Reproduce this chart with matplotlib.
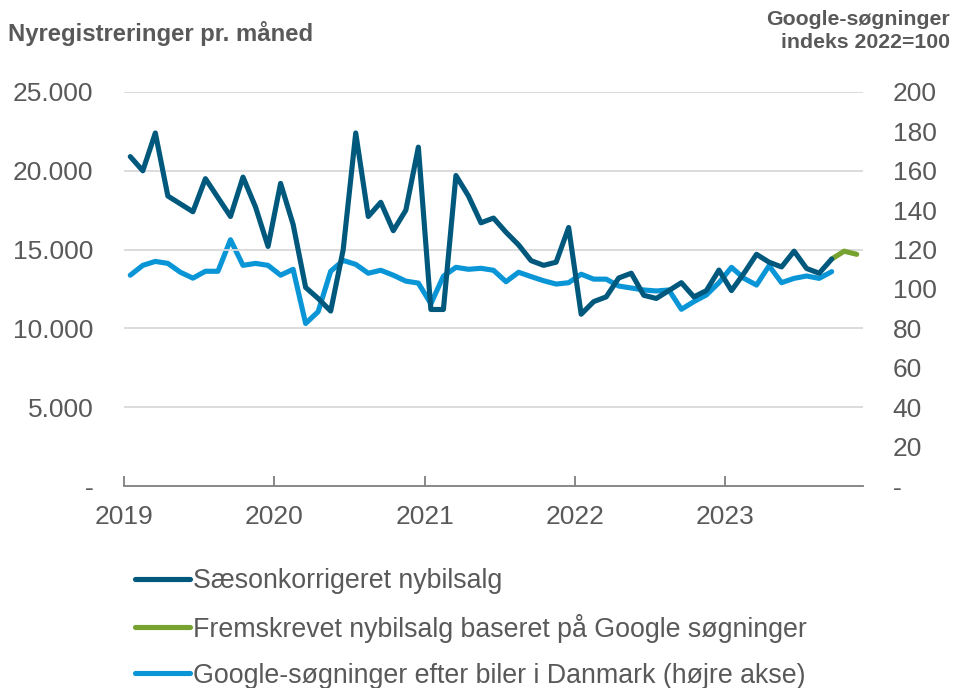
import matplotlib
matplotlib.use("Agg")
import matplotlib.pyplot as plt
import numpy as np
from matplotlib.ticker import FuncFormatter

plt.rcParams['font.family'] = ['Liberation Sans', 'DejaVu Sans']

# Monthly data, Jan 2019 - Sep 2023
sales = [20900, 20000, 22400, 18400, 17900, 17400, 19500, 18300, 17100, 19600, 17700, 15200,
         19200, 16600, 12600, 11900, 11100, 15000, 22400, 17100, 18000, 16200, 17500, 21500,
         11200, 11200, 19700, 18400, 16700, 17000, 16100, 15300, 14300, 14000, 14200, 16400,
         10900, 11700, 12000, 13200, 13500, 12100, 11900, 12400, 12900, 12000, 12400, 13700,
         12400, 13500, 14700, 14200, 13900, 14900, 13800, 13500, 14400]
google = [107, 112, 114, 113, 108.5, 105.5, 109, 109, 125, 112, 113, 112,
          107, 110, 82.5, 88.5, 109, 114.5, 112.5, 108, 109.5, 107, 104, 103,
          92.5, 106.5, 111, 110, 110.5, 109.5, 103.7, 108.5, 106.3, 104.2, 102.5, 103.2,
          107.5, 105, 105, 101.5, 100.5, 99.5, 99, 99.5, 89.7, 93.6, 97, 103.2,
          111, 105.4, 102, 111.8, 103.2, 105.4, 106.6, 105.4, 108.8]
# Forecast Sep - Nov 2023
forecast = [14400, 14900, 14700]
forecast_start = 56

years = ['2019', '2020', '2021', '2022', '2023']
left_ticks = [0, 5000, 10000, 15000, 20000, 25000]
right_ticks = [0, 20, 40, 60, 80, 100, 120, 140, 160, 180, 200]

labels = ['Sæsonkorrigeret nybilsalg',
          'Fremskrevet nybilsalg baseret på Google søgninger',
          'Google-søgninger efter biler i Danmark (højre akse)']

c_dark = '#00597D'
c_green = '#77A22F'
c_light = '#0A96D6'
c_text = '#595959'

fig = plt.figure(figsize=(9.54, 6.88), dpi=100)
ax = fig.add_axes([0.130, 0.2936, 0.7746, 0.5727])
ax2 = ax.twinx()

x_sales = np.arange(len(sales)) + 0.5
x_google = np.arange(len(google)) + 0.5
x_fc = np.arange(forecast_start, forecast_start + len(forecast)) + 0.5

lw = 3.7
l2, = ax.plot(x_fc, forecast, color=c_green, lw=lw, solid_capstyle='round', solid_joinstyle='round', zorder=3)
l1, = ax.plot(x_sales, sales, color=c_dark, lw=lw, solid_capstyle='round', solid_joinstyle='round', zorder=4)
l3, = ax2.plot(x_google, google, color=c_light, lw=lw, solid_capstyle='round', solid_joinstyle='round', zorder=3)

ax.set_zorder(ax2.get_zorder() + 1)
ax.patch.set_visible(False)

ax.set_xlim(0, 59)
ax.set_ylim(0, 25000)
ax2.set_ylim(0, 200)

ax.set_yticks(left_ticks)
ax.yaxis.set_major_formatter(FuncFormatter(lambda v, p: '-' if v == 0 else f'{int(v):,}'.replace(',', '.')))
ax2.set_yticks(right_ticks)
ax2.yaxis.set_major_formatter(FuncFormatter(lambda v, p: '-' if v == 0 else f'{int(v)}'))

ax.set_xticks([0, 12, 24, 36, 48])
ax.set_xticklabels(years)

for a in (ax, ax2):
    for s in ('top', 'left', 'right', 'bottom'):
        a.spines[s].set_visible(False)
ax.spines['bottom'].set_visible(True)
ax.spines['bottom'].set_color('#7F7F7F')
ax.spines['bottom'].set_linewidth(1.3)

ax.tick_params(axis='y', length=0, pad=22, labelsize=19, labelcolor=c_text)
ax2.tick_params(axis='y', length=0, pad=21.5, labelsize=19, labelcolor=c_text)
ax.tick_params(axis='x', direction='in', length=7, width=1.3, color='#7F7F7F',
               pad=13.5, labelsize=19, labelcolor=c_text)

ax.grid(axis='y', color='#D9D9D9', lw=1.3)
ax.set_axisbelow(True)
ax.yaxis.get_gridlines()[0].set_visible(False)

fig.text(0.008, 0.952, 'Nyregistreringer pr. måned', fontsize=17.2, fontweight='bold',
         color=c_text, ha='left', va='center')
fig.text(0.996, 0.971, 'Google-søgninger', fontsize=15.3, fontweight='bold',
         color=c_text, ha='right', va='center')
fig.text(0.996, 0.9375, 'indeks 2022=100', fontsize=15.3, fontweight='bold',
         color=c_text, ha='right', va='center')

leg = fig.legend([l1, l2, l3], labels, loc='upper left', bbox_to_anchor=(0.1415, 0.1745),
                 frameon=False, fontsize=19.3, handlelength=2.05, handletextpad=0.1,
                 labelspacing=0.74, borderaxespad=0, borderpad=0)
for t in leg.get_texts():
    t.set_color(c_text)

fig.savefig('out.png', dpi=100)
